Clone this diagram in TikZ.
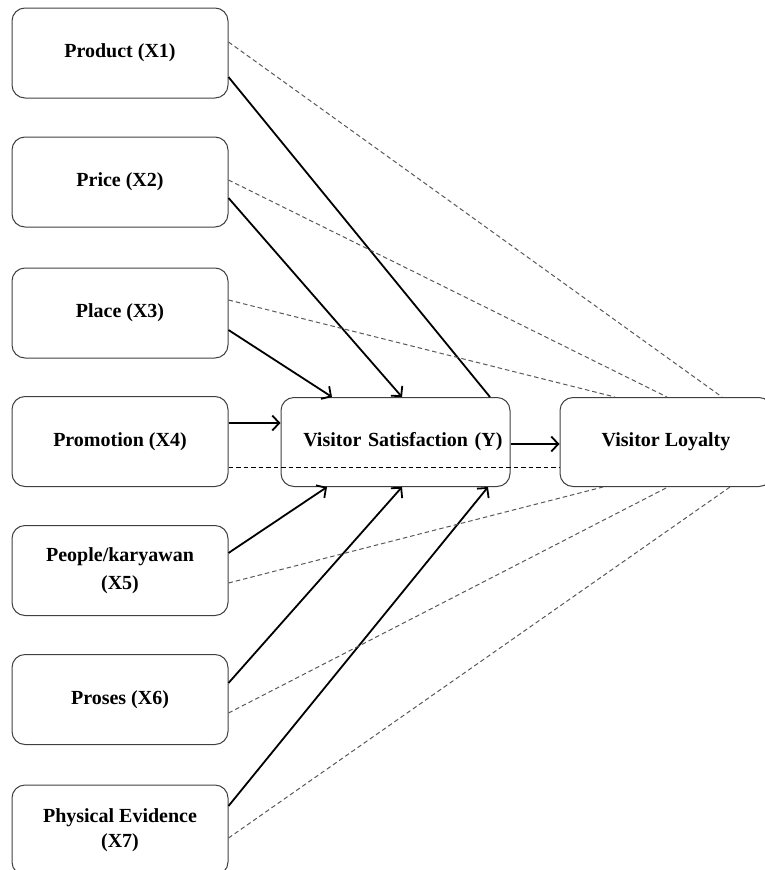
\documentclass[tikz,border=0pt]{standalone}
\usepackage{fontspec}
\setmainfont{Liberation Serif}
\usetikzlibrary{arrows.meta}

\tikzset{
	varbox/.style={draw=black!75, line width=1pt, rounded corners=13pt, minimum width=216pt, minimum height=90pt, align=center, font=\fontsize{20}{28}\selectfont\bfseries},
	direct/.style={line width=1.8pt, black},
	indirect/.style={line width=1pt, black!65, dash pattern=on 4.5pt off 3pt}
}

\begin{document}
\begin{tikzpicture}[x=1pt, y=-1pt, >={Straight Barb[length=7pt,width=15pt]}]
	\useasboundingbox (0,0) rectangle (765,870);
	% variables X
	\node[varbox] (x1) at (120,53) {Product (X1)};
	\node[varbox] (x2) at (120,182) {Price (X2)};
	\node[varbox] (x3) at (120,313) {Place (X3)};
	\node[varbox] (x4) at (120,441.5) {Promotion (X4)};
	\node[varbox] (x5) at (120,570.5) {People/karyawan\\(X5)};
	\node[varbox] (x6) at (120,699.5) {Proses (X6)};
	\node[varbox, font=\fontsize{20}{25}\selectfont\bfseries] (x7) at (120,830) {Physical Evidence\\(X7)};
	% Y and Z
	\node[varbox, minimum width=229pt, minimum height=89pt, text width=214pt, align=right] (vs) at (395.5,442) {Visitor Satisfaction (Y)};
	\node[varbox, minimum width=212pt, minimum height=89pt] (vl) at (666,442) {Visitor Loyalty};
	% direct effects
	\draw[direct] ([yshift=-24pt]x1.east) -- ([xshift=94.5pt]vs.north);
	\draw[direct, ->] ([yshift=-16pt]x2.east) -- ([xshift=6.5pt]vs.north);
	\draw[direct, ->] ([yshift=-17pt]x3.east) -- ([xshift=-63.5pt]vs.north);
	\draw[direct, ->] ([yshift=18.5pt]x4.east) -- ([yshift=19pt]vs.west);
	\draw[direct, ->] ([yshift=17.5pt]x5.east) -- ([xshift=-68.5pt]vs.south);
	\draw[direct, ->] ([yshift=16.5pt]x6.east) -- ([xshift=6.5pt]vs.south);
	\draw[direct, ->] ([yshift=24pt]x7.east) -- ([xshift=92.5pt]vs.south);
	\draw[direct, ->] ([yshift=-2pt]vs.east) -- ([yshift=-2pt]vl.west);
	% indirect effects
	\draw[indirect] ([yshift=11pt]x1.east) -- ([xshift=56pt]vl.north);
	\draw[indirect] ([yshift=2pt]x2.east) -- ([xshift=1pt]vl.north);
	\draw[indirect] ([yshift=13pt]x3.east) -- ([xshift=-51pt]vl.north);
	\draw[indirect, black] ([yshift=-25.5pt]x4.east) -- ([yshift=-25pt]vl.west);
	\draw[indirect] ([yshift=-12.5pt]x5.east) -- ([xshift=-63pt]vl.south);
	\draw[indirect] ([yshift=-13.5pt]x6.east) -- ([xshift=2pt]vl.south);
	\draw[indirect] ([yshift=-8pt]x7.east) -- ([xshift=64pt]vl.south);
\end{tikzpicture}
\end{document}
